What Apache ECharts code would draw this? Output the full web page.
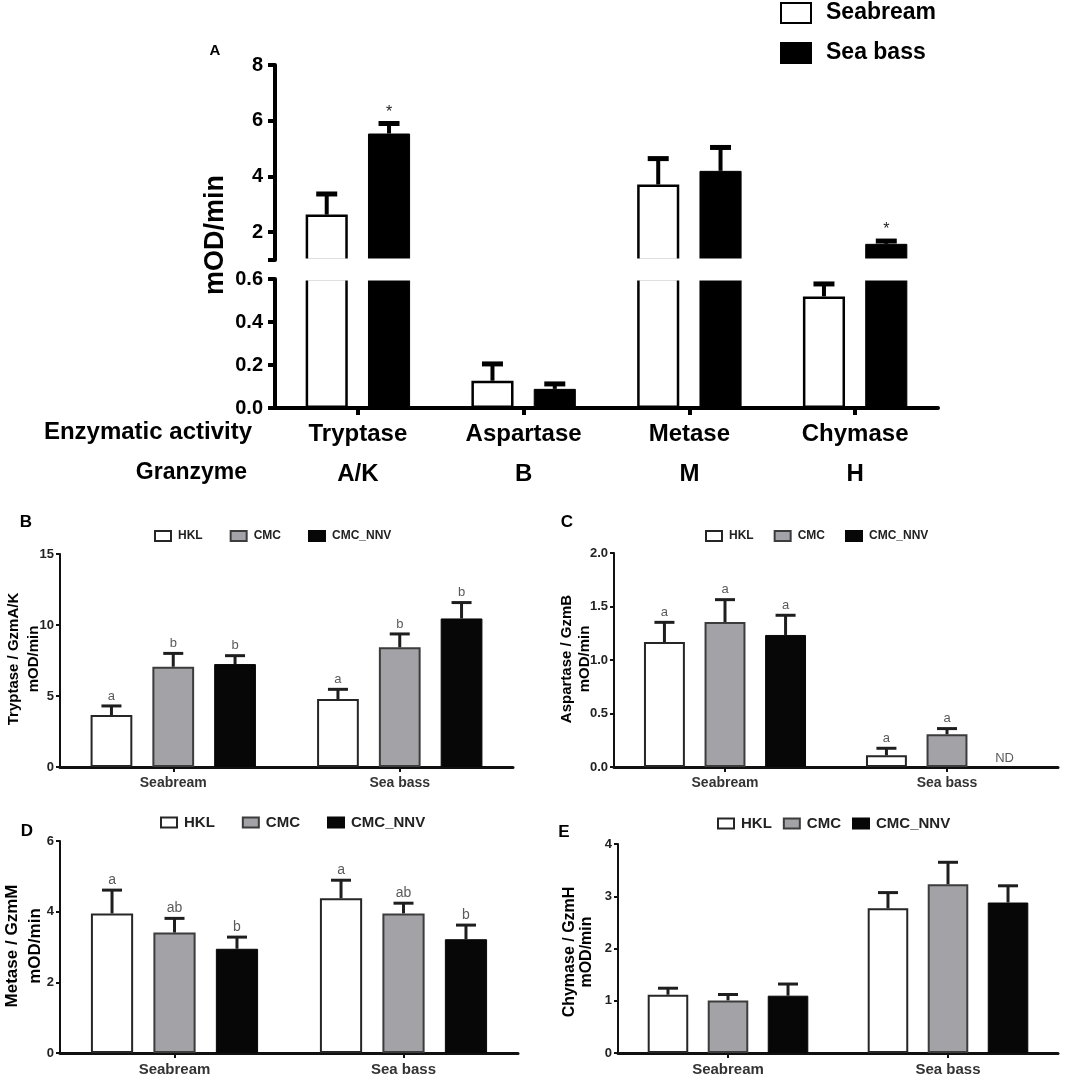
<!DOCTYPE html>
<html>
<head>
<meta charset="utf-8">
<script src="https://cdn.jsdelivr.net/npm/echarts@6/dist/echarts.min.js"></script>
<style>
  html, body { margin: 0; padding: 0; background: #fff; }
  #main { width: 1084px; height: 1078px; }
</style>
</head>
<body>
<div id="main"></div>
<script>
// ---- data, panel A
var enzymes = ["Tryptase", "Aspartase", "Metase", "Chymase"];
var granzymes = ["A/K", "B", "M", "H"];
var seabreamA = [2.63, 0.127, 3.71, 0.519];
var seabreamAErr = [0.74, 0.078, 0.93, 0.058];
var seabassA = [5.54, 0.089, 4.2, 1.58];
var seabassAErr = [0.36, 0.023, 0.84, 0.1];
var seabassAMark = ["*", "", "", "*"];
var upperTicks = [1, 2, 4, 6, 8];
var upperLabels = [2, 4, 6, 8];

// ---- data, panels B-E (Seabream, Sea bass)
var fish = ["Seabream", "Sea bass"];
var groups = ["HKL", "CMC", "CMC_NNV"];

var bHKL = [3.66, 4.79], bHKLErr = [0.64, 0.68], bHKLMark = ["a", "a"];
var bCMC = [7.06, 8.43], bCMCErr = [0.94, 0.94], bCMCMark = ["b", "b"];
var bNNV = [7.25, 10.46], bNNVErr = [0.59, 1.12], bNNVMark = ["b", "b"];

var cHKL = [1.168, 0.109], cHKLErr = [0.184, 0.066], cHKLMark = ["a", "a"];
var cCMC = [1.355, 0.306], cCMCErr = [0.209, 0.053], cCMCMark = ["a", "a"];
var cNNV = [1.234, null], cNNVErr = [0.184, 0], cNNVMark = ["a", "ND"];

var dHKL = [3.95, 4.38], dHKLErr = [0.66, 0.51], dHKLMark = ["a", "a"];
var dCMC = [3.41, 3.95], dCMCErr = [0.4, 0.29], dCMCMark = ["ab", "ab"];
var dNNV = [2.95, 3.22], dNNVErr = [0.33, 0.4], dNNVMark = ["b", "b"];

var eHKL = [1.116, 2.77], eHKLErr = [0.124, 0.3];
var eCMC = [1.007, 3.23], eCMCErr = [0.113, 0.42];
var eNNV = [1.097, 2.88], eNNVErr = [0.223, 0.32];

(function() {
  var myChart = echarts.init(document.getElementById("main"), null, { renderer: "canvas" });
  var FF = '"Liberation Sans", Arial, Helvetica, sans-serif';

  // bar geometry (shared by bars and the error bars drawn on top)
  var catGapA = 0.37, gapA = 0.48;
  var catGapS = 0.27, gapS = 0.48;

  var whiteA = { color: "#fff", borderColor: "#000", borderWidth: 2.5 };
  var blackA = { color: "#000", borderColor: "#000", borderWidth: 1 };
  var styles = [
    { color: "#fff", borderColor: "#262626", borderWidth: 2 },
    { color: "#a3a3a7", borderColor: "#3c3c3c", borderWidth: 2 },
    { color: "#070707", borderColor: "#070707", borderWidth: 1 }
  ];

  function pct(v) {
    return Math.round(v * 100) + "%";
  }

  function bar(name, data, idx, style, catGap, gap) {
    return {
      name: name,
      type: "bar",
      xAxisIndex: idx,
      yAxisIndex: idx,
      data: data,
      barGap: pct(gap),
      barCategoryGap: pct(catGap),
      itemStyle: style,
      silent: true,
      animation: false
    };
  }

  // error bar (upper half only) + letter above the cap
  function errors(vals, errs, marks, n, k, catGap, gap, idx, opt) {
    return {
      type: "custom",
      xAxisIndex: idx,
      yAxisIndex: idx,
      silent: true,
      animation: false,
      clip: false,
      z: 5,
      data: vals.map(function(v, i) {
        return [i, v == null ? 0 : v];
      }),
      renderItem: function(params, api) {
        var i = params.dataIndex;
        var v = vals[i];
        var band = api.size([1, 0])[0];
        var w = (band * (1 - catGap)) / (n + (n - 1) * gap);
        var cx = api.coord([i, 0])[0] + (k - (n - 1) / 2) * w * (1 + gap);
        var mark = marks ? marks[i] : "";
        var kids = [];
        if (v == null) {
          kids.push({
            type: "text",
            style: {
              text: mark, x: cx - 3, y: api.coord([i, 0])[1] - 9,
              align: "center", verticalAlign: "middle",
              textAlign: "center", textVerticalAlign: "middle",
              font: opt.markFont, fill: opt.markColor
            }
          });
          return { type: "group", children: kids };
        }
        if (opt.range && (v <= opt.range[0] || v >= opt.range[1])) return;
        var yTop = api.coord([i, v])[1];
        var yCap = api.coord([i, v + errs[i]])[1];
        kids.push({
          type: "line",
          shape: { x1: cx, y1: yTop, x2: cx, y2: yCap },
          style: { stroke: opt.color, lineWidth: opt.stem }
        });
        kids.push({
          type: "line",
          shape: { x1: cx - opt.capW / 2, y1: yCap, x2: cx + opt.capW / 2, y2: yCap },
          style: { stroke: opt.color, lineWidth: opt.cap }
        });
        if (mark) {
          kids.push({
            type: "text",
            style: {
              text: mark, x: cx, y: yCap - opt.markGap,
              align: "center", verticalAlign: "middle",
              textAlign: "center", textVerticalAlign: "middle",
              font: opt.markFont, fill: opt.markColor
            }
          });
        }
        return { type: "group", children: kids };
      }
    };
  }

  var errA = { color: "#000", stem: 4, cap: 5, capW: 21, markGap: 11, markFont: "16px " + FF, markColor: "#222" };
  function errS(fs) {
    return { color: "#1e1e1e", stem: 3, cap: 3, capW: 20, markGap: 10, markFont: fs + "px " + FF, markColor: "#5a5a5a" };
  }

  function upperOnly(arr) {
    return arr.map(function(v) {
      return v > 1 ? v : "-";
    });
  }

  // ---- axes
  var grids = [
    { left: 275, right: 146, top: 65, height: 195 },
    { left: 275, right: 146, top: 279, height: 129 },
    { left: 60, right: 571, top: 554, height: 213 },
    { left: 614, right: 26, top: 553, height: 214 },
    { left: 60, right: 566, top: 841, height: 212 },
    { left: 618, right: 26, top: 844, height: 209 }
  ];
  grids.forEach(function(g) {
    g.containLabel = false;
    g.outerBoundsMode = "none";
  });

  var thickLine = { show: true, onZero: false, lineStyle: { color: "#000", width: 4 } };

  var xAxes = [
    { gridIndex: 0, type: "category", data: enzymes, show: false },
    {
      gridIndex: 1,
      type: "category",
      data: enzymes,
      axisLine: thickLine,
      axisTick: { show: true, alignWithLabel: true, length: 7, lineStyle: { color: "#000", width: 4 } },
      axisLabel: {
        interval: 0,
        margin: 6,
        formatter: function(v, i) {
          return "{a|" + v + "}\n{b|" + granzymes[i] + "}";
        },
        rich: {
          a: { fontSize: 24, fontWeight: "bold", fontFamily: FF, color: "#000", lineHeight: 40 },
          b: { fontSize: 24, fontWeight: "bold", fontFamily: FF, color: "#000", lineHeight: 40 }
        }
      }
    }
  ];
  var yAxes = [
    {
      gridIndex: 0,
      type: "value",
      min: 1,
      max: 8,
      axisLine: thickLine,
      axisTick: { show: true, length: 7, customValues: upperTicks, lineStyle: { color: "#000", width: 4 } },
      axisLabel: { customValues: upperLabels, fontSize: 20, fontWeight: "bold", fontFamily: FF, color: "#000", margin: 12 },
      splitLine: { show: false }
    },
    {
      gridIndex: 1,
      type: "value",
      min: 0,
      max: 0.6,
      interval: 0.2,
      axisLine: thickLine,
      axisTick: { show: true, length: 7, lineStyle: { color: "#000", width: 4 } },
      axisLabel: {
        fontSize: 20, fontWeight: "bold", fontFamily: FF, color: "#000", margin: 12,
        formatter: function(v) {
          return v.toFixed(1);
        }
      },
      splitLine: { show: false }
    }
  ];

  var small = [
    { max: 15, interval: 5, dec: 0, fs: 14 },
    { max: 2, interval: 0.5, dec: 1, fs: 14 },
    { max: 6, interval: 2, dec: 0, fs: 15 },
    { max: 4, interval: 1, dec: 0, fs: 15 }
  ];
  small.forEach(function(p, j) {
    var gi = j + 2;
    xAxes.push({
      gridIndex: gi,
      type: "category",
      data: fish,
      axisLine: { show: true, lineStyle: { color: "#111", width: 3 } },
      axisTick: { show: true, alignWithLabel: true, length: 5, lineStyle: { color: "#111", width: 2 } },
      axisLabel: { interval: 0, margin: 9, fontSize: p.fs, fontWeight: "bold", fontFamily: FF, color: "#333" }
    });
    yAxes.push({
      gridIndex: gi,
      type: "value",
      min: 0,
      max: p.max,
      interval: p.interval,
      axisLine: { show: true, onZero: false, lineStyle: { color: "#111", width: 2 } },
      axisTick: { show: true, length: 4, lineStyle: { color: "#111", width: 2 } },
      axisLabel: {
        fontSize: 13, fontWeight: "bold", fontFamily: FF, color: "#222", margin: 6,
        formatter: function(v) {
          return v.toFixed(p.dec);
        }
      },
      splitLine: { show: false }
    });
  });

  // ---- series
  var series = [
    bar("Seabream", upperOnly(seabreamA), 0, whiteA, catGapA, gapA),
    bar("Sea bass", upperOnly(seabassA), 0, blackA, catGapA, gapA),
    bar("Seabream", seabreamA, 1, whiteA, catGapA, gapA),
    bar("Sea bass", seabassA, 1, blackA, catGapA, gapA),
    errors(seabreamA, seabreamAErr, null, 2, 0, catGapA, gapA, 0, Object.assign({ range: [1, 99] }, errA)),
    errors(seabassA, seabassAErr, seabassAMark, 2, 1, catGapA, gapA, 0, Object.assign({ range: [1, 99] }, errA)),
    errors(seabreamA, seabreamAErr, null, 2, 0, catGapA, gapA, 1, Object.assign({ range: [-1, 0.6] }, errA)),
    errors(seabassA, seabassAErr, null, 2, 1, catGapA, gapA, 1, Object.assign({ range: [-1, 0.6] }, errA))
  ];

  var panelSets = [
    { vals: [bHKL, bCMC, bNNV], errs: [bHKLErr, bCMCErr, bNNVErr], marks: [bHKLMark, bCMCMark, bNNVMark], mfs: 13 },
    { vals: [cHKL, cCMC, cNNV], errs: [cHKLErr, cCMCErr, cNNVErr], marks: [cHKLMark, cCMCMark, cNNVMark], mfs: 13 },
    { vals: [dHKL, dCMC, dNNV], errs: [dHKLErr, dCMCErr, dNNVErr], marks: [dHKLMark, dCMCMark, dNNVMark], mfs: 14 },
    { vals: [eHKL, eCMC, eNNV], errs: [eHKLErr, eCMCErr, eNNVErr], marks: null, mfs: 14 }
  ];
  panelSets.forEach(function(ps, j) {
    var gi = j + 2;
    groups.forEach(function(g, k) {
      var d = ps.vals[k].map(function(v) {
        return v == null ? "-" : v;
      });
      series.push(bar(g, d, gi, styles[k], catGapS, gapS));
    });
    groups.forEach(function(g, k) {
      series.push(errors(ps.vals[k], ps.errs[k], ps.marks ? ps.marks[k] : null, 3, k, catGapS, gapS, gi, errS(ps.mfs)));
    });
  });

  // ---- legends
  function smallLegend(left, top, gap, fs) {
    return {
      data: groups,
      left: left,
      top: top,
      padding: 0,
      icon: "rect",
      itemWidth: 16,
      itemHeight: 10,
      itemGap: gap,
      selectedMode: false,
      textStyle: { fontSize: fs, fontWeight: "bold", fontFamily: FF, color: "#222", padding: [0, 0, 0, 2] }
    };
  }
  var legends = [
    {
      data: ["Seabream", "Sea bass"],
      orient: "vertical",
      left: 780,
      top: 0,
      padding: 0,
      icon: "rect",
      itemWidth: 30,
      itemHeight: 20,
      itemGap: 14,
      selectedMode: false,
      textStyle: { fontSize: 23, fontWeight: "bold", fontFamily: FF, color: "#000", lineHeight: 26, padding: [0, 0, 0, 10] }
    },
    smallLegend(154, 530, 27, 12),
    smallLegend(705, 530, 20, 12),
    smallLegend(160, 815, 27, 15),
    smallLegend(717, 816, 11, 15)
  ];

  // ---- free text
  function txt(s, x, y, font, opts) {
    opts = opts || {};
    var al = opts.align || "center";
    return {
      type: "text",
      x: x,
      y: y,
      rotation: opts.rot || 0,
      silent: true,
      style: {
        text: s, font: font, fill: opts.color || "#000",
        align: al, verticalAlign: "middle", textAlign: al, textVerticalAlign: "middle",
        lineHeight: opts.lh
      }
    };
  }
  var R = Math.PI / 2;
  var graphic = [
    // white band hiding the bar edges at the axis break
    {
      type: "rect",
      z: 100,
      silent: true,
      shape: { x: 281, y: 258.6, width: 660, height: 22 },
      style: { fill: "#fff" }
    },
    txt("A", 215, 51, "bold 15px " + FF),
    txt("B", 26, 522, "bold 17px " + FF),
    txt("C", 567, 522, "bold 17px " + FF),
    txt("D", 27, 831, "bold 17px " + FF),
    txt("E", 564, 832, "bold 17px " + FF),
    txt("mOD/min", 216, 235, "bold 27px " + FF, { rot: R }),
    txt("Enzymatic activity", 252, 432, "bold 24px " + FF, { align: "right" }),
    txt("Granzyme", 247, 473, "bold 23px " + FF, { align: "right" }),
    txt("Tryptase / GzmA/K\nmOD/min", 24, 659, "bold 15px " + FF, { rot: R, lh: 20 }),
    txt("Aspartase / GzmB\nmOD/min", 576, 659, "bold 15px " + FF, { rot: R, lh: 18 }),
    txt("Metase / GzmM\nmOD/min", 24, 946, "bold 17px " + FF, { rot: R, lh: 23 }),
    txt("Chymase / GzmH\nmOD/min", 578, 952, "bold 16px " + FF, { rot: R, lh: 17 })
  ];

  var option = {
    backgroundColor: "#fff",
    animation: false,
    textStyle: { fontFamily: FF },
    grid: grids,
    xAxis: xAxes,
    yAxis: yAxes,
    legend: legends,
    series: series,
    graphic: graphic
  };

  myChart.setOption(option);
  window.addEventListener("resize", function() {
    myChart.resize();
  });
})();
</script>
</body>
</html>
